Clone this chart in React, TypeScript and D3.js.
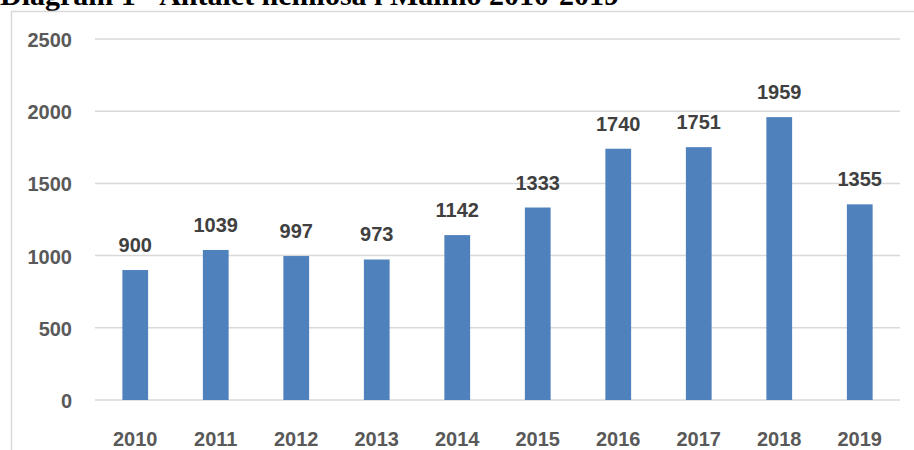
import { useEffect, useRef } from "react";
import * as d3 from "d3";

const years = ["2010", "2011", "2012", "2013", "2014", "2015", "2016", "2017", "2018", "2019"];
const homeless = [900, 1039, 997, 973, 1142, 1333, 1740, 1751, 1959, 1355];
const yTicks = [0, 500, 1000, 1500, 2000, 2500];
const title = "Diagram 1 - Antalet hemlösa i Malmö 2010-2019";

const App = () => {
  const ref = useRef<SVGSVGElement>(null);

  useEffect(() => {
    const svg = d3.select(ref.current);
    svg.selectAll("*").remove();

    const left = 95, right = 900, top = 39, bottom = 400;

    // title, mostly cut off above the frame
    svg.append("text")
      .attr("x", 0)
      .attr("y", 5)
      .attr("font-family", "'Liberation Serif', serif")
      .attr("font-weight", "bold")
      .attr("font-size", 30)
      .attr("fill", "#000")
      .text(title);

    // chart frame
    svg.append("rect")
      .attr("x", 11.5)
      .attr("y", 11.5)
      .attr("width", 960)
      .attr("height", 500)
      .attr("fill", "#fff")
      .attr("stroke", "#d9d9d9")
      .attr("stroke-width", 1.5);

    const x = d3.scaleBand().domain(years).range([left, right]).paddingInner(0.68).paddingOuter(0.34);
    const y = d3.scaleLinear().domain([0, 2500]).range([bottom, top]);

    const font = "'Liberation Sans', Arial, sans-serif";

    // gridlines
    svg.append("g")
      .selectAll("line")
      .data(yTicks)
      .enter()
      .append("line")
      .attr("x1", left)
      .attr("x2", right)
      .attr("y1", d => y(d))
      .attr("y2", d => y(d))
      .attr("stroke", "#d9d9d9")
      .attr("stroke-width", 1.5);

    // y labels
    svg.append("g")
      .selectAll("text")
      .data(yTicks)
      .enter()
      .append("text")
      .attr("x", 72)
      .attr("y", d => y(d) + 8)
      .attr("text-anchor", "end")
      .attr("font-family", font)
      .attr("font-weight", "bold")
      .attr("font-size", 20)
      .attr("fill", "#595959")
      .text(d => d);

    // bars
    svg.append("g")
      .selectAll("rect")
      .data(homeless)
      .enter()
      .append("rect")
      .attr("x", (d, i) => x(years[i])!)
      .attr("y", d => y(d))
      .attr("width", x.bandwidth())
      .attr("height", d => bottom - y(d))
      .attr("fill", "#4f81bd");

    // value labels
    svg.append("g")
      .selectAll("text")
      .data(homeless)
      .enter()
      .append("text")
      .attr("x", (d, i) => x(years[i])! + x.bandwidth() / 2)
      .attr("y", d => y(d) - 18)
      .attr("text-anchor", "middle")
      .attr("font-family", font)
      .attr("font-weight", "bold")
      .attr("font-size", 20)
      .attr("fill", "#404040")
      .text(d => d);

    // x labels
    svg.append("g")
      .selectAll("text")
      .data(years)
      .enter()
      .append("text")
      .attr("x", d => x(d)! + x.bandwidth() / 2)
      .attr("y", 446)
      .attr("text-anchor", "middle")
      .attr("font-family", font)
      .attr("font-weight", "bold")
      .attr("font-size", 20)
      .attr("fill", "#595959")
      .text(d => d);
  }, []);

  return (
    <svg ref={ref} width={914} height={450} style={{ position: "absolute", left: 0, top: 0, display: "block" }} />
  );
};

export default App;
